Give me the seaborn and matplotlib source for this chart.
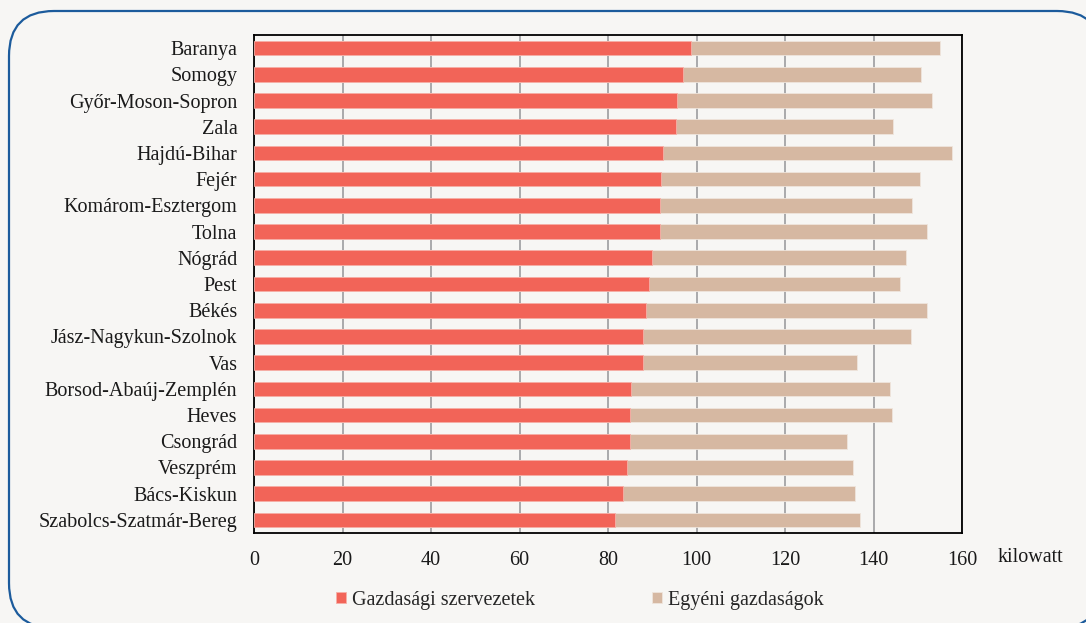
import matplotlib
matplotlib.use("Agg")
import matplotlib.pyplot as plt
import numpy as np
import pandas as pd
import seaborn as sns
from matplotlib.patches import FancyBboxPatch

megyek = [
    "Baranya", "Somogy", "Győr-Moson-Sopron", "Zala", "Hajdú-Bihar", "Fejér",
    "Komárom-Esztergom", "Tolna", "Nógrád", "Pest", "Békés",
    "Jász-Nagykun-Szolnok", "Vas", "Borsod-Abaúj-Zemplén", "Heves",
    "Csongrád", "Veszprém", "Bács-Kiskun", "Szabolcs-Szatmár-Bereg",
]
gazdasagi = [98.8, 96.9, 95.5, 95.3, 92.5, 91.9, 91.7, 91.7, 89.9, 89.2,
             88.7, 87.9, 87.8, 85.3, 84.9, 84.9, 84.2, 83.3, 81.5]
egyeni = [56.2, 53.9, 57.7, 49.2, 65.2, 58.7, 57.1, 60.4, 57.4, 56.8,
          63.5, 60.5, 48.5, 58.5, 59.3, 49.1, 51.2, 52.6, 55.4]
xticks = [0, 20, 40, 60, 80, 100, 120, 140, 160]

RED = "#F26458"
TAN = "#D6B8A2"
BG = "#F7F6F4"
FS = 14.5

df = pd.DataFrame({"megye": megyek, "gazd": gazdasagi, "egyeni": egyeni})
df["osszes"] = df["gazd"] + df["egyeni"]

sns.set_style("white")
plt.rcParams["font.family"] = ["Liberation Serif", "DejaVu Serif"]

W, H = 1086, 623
fig = plt.figure(figsize=(W / 100, H / 100), dpi=100, facecolor=BG)

# rounded blue frame, partly running off the right and bottom edges
# (filled so that Agg does not clip the stroke onto the canvas border)
frame = FancyBboxPatch((9 / W, -5 / H), 1093 / W, 617 / H,
                       boxstyle="round,pad=0,rounding_size=%f" % (45 / W),
                       mutation_aspect=W / H,
                       transform=fig.transFigure, facecolor=BG,
                       edgecolor="#1C5B9C", linewidth=1.6, zorder=-5)
fig.patches.append(frame)

ax = fig.add_axes([254 / W, 1 - 533 / H, 708 / W, 498 / H])
ax.set_facecolor(BG)

sns.barplot(data=df, y="megye", x="osszes", color=TAN, width=0.56,
            saturation=1, edgecolor="#EFE5DC", linewidth=0.6,
            label="Egyéni gazdaságok", ax=ax, zorder=2)
sns.barplot(data=df, y="megye", x="gazd", color=RED, width=0.56,
            saturation=1, edgecolor="#F7B0A8", linewidth=0.6,
            label="Gazdasági szervezetek", ax=ax, zorder=3)

ax.set_xlim(0, 160)
ax.set_xticks(xticks)
ax.set_xlabel("")
ax.set_ylabel("")
ax.grid(axis="x", color="#A3A3A6", linewidth=1.3, zorder=0)
ax.set_axisbelow(True)
ax.tick_params(axis="both", length=0, labelsize=FS, colors="#1A1A1A")
ax.tick_params(axis="x", pad=13)
ax.tick_params(axis="y", pad=12)
for s in ax.spines.values():
    s.set_visible(True)
    s.set_color("black")
    s.set_linewidth(1.3)

fig.text(998 / W, 1 - 557 / H, "kilowatt", fontsize=FS,
         color="#1A1A1A", va="center", ha="left")

handles, labels = ax.get_legend_handles_labels()
order = [labels.index("Gazdasági szervezetek"), labels.index("Egyéni gazdaságok")]
ax.legend([handles[i] for i in order], [labels[i] for i in order],
          loc="center", bbox_to_anchor=(580 / W, 1 - 600 / H),
          bbox_transform=fig.transFigure, ncol=2, frameon=False,
          fontsize=FS, handlelength=0.5, handleheight=0.5,
          handletextpad=0.3, columnspacing=5.8)

fig.savefig("out.png", dpi=100, facecolor=BG)
